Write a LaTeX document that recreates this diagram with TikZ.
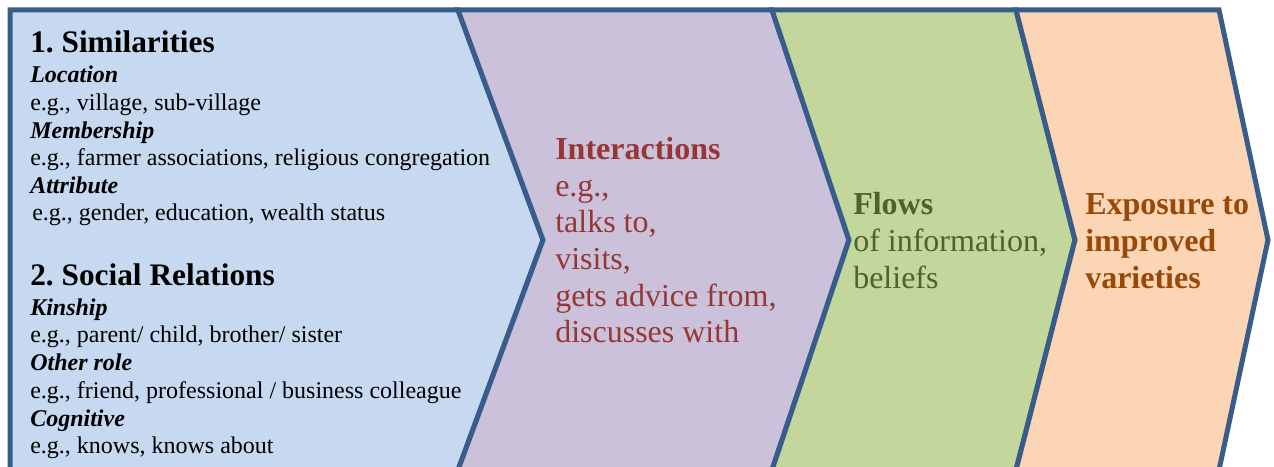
\documentclass[tikz,border=0pt]{standalone}
\usepackage{fontspec}
\setmainfont{Liberation Serif}
\usetikzlibrary{positioning}
\definecolor{edgeblue}{HTML}{385D8A}
\definecolor{simblue}{HTML}{C6D9F0}
\definecolor{actpurple}{HTML}{CCC1DA}
\definecolor{flowgreen}{HTML}{C3D69B}
\definecolor{expoorange}{HTML}{FCD5B5}
\definecolor{actred}{HTML}{953735}
\definecolor{flowolive}{HTML}{4F6228}
\definecolor{expobrown}{HTML}{984807}
\tikzset{
  stage/.style={draw=edgeblue,line width=3.75pt},
  txt/.style={anchor=base west,inner sep=0pt},
  head/.style={txt,font=\fontsize{23.5}{28}\selectfont\bfseries},
  kind/.style={txt,font=\fontsize{18}{21}\selectfont\bfseries\itshape},
  eg/.style={txt,font=\fontsize{18}{21}\selectfont},
  big/.style={txt,font=\fontsize{24}{29}\selectfont},
  bigbf/.style={txt,font=\fontsize{24}{29}\selectfont\bfseries},
}

\begin{document}
\frenchspacing
\begin{tikzpicture}[x=0.75pt,y=-0.75pt]
\useasboundingbox (0,0) rectangle (1274,467);
\clip (0,0) rectangle (1274,467);
% Corners of the four chevrons
\coordinate (t0) at (10,10);
\coordinate (t1) at (458,10);
\coordinate (t2) at (772,10);
\coordinate (t3) at (1016,10);
\coordinate (t4) at (1219,10);
\coordinate (p1) at (543,240);
\coordinate (p2) at (849,240);
\coordinate (p3) at (1075,240);
\coordinate (p4) at (1268,240);
\coordinate (b0) at (10,470);
\coordinate (b1) at (458,470);
\coordinate (b2) at (772,470);
\coordinate (b3) at (1016,470);
\coordinate (b4) at (1219,470);
% Chevrons
\draw[stage,fill=simblue] (t0) -- (t1) -- (p1) -- (b1) -- (b0) -- cycle;
\draw[stage,fill=actpurple] (t1) -- (t2) -- (p2) -- (b2) -- (b1) -- (p1) -- cycle;
\draw[stage,fill=flowgreen] (t2) -- (t3) -- (p3) -- (b3) -- (b2) -- (p2) -- cycle;
\draw[stage,fill=expoorange] (t3) -- (t4) -- (p4) -- (b4) -- (b3) -- (p3) -- cycle;
% Left block
\node[head] (sim) at (30,53) {1. Similarities};
\node[head] (soc) at (30,285) {2. Social Relations};
\foreach \y/\t [count=\i] in {83/Location,138/Membership,193/Attribute,315/Kinship,370/Other role,426/Cognitive}
  \node[kind] (kind\i) at (30,\y) {\t};
\foreach \x/\y/\t [count=\i] in {30/110/{e.g., village, sub-village},
    30/165/{e.g., farmer associations, religious congregation},
    32/220/{e.g., gender, education, wealth status},
    30/342/{e.g., parent/ child, brother/ sister},
    30/398/{e.g., friend, professional / business colleague},
    30/453/{e.g., knows, knows about}}
  \node[eg] (eg\i) at (\x,\y) {\t};
% Interactions
\node[bigbf,text=actred] (act) at (555,159) {Interactions};
\foreach \y/\t [count=\i] in {196/{e.g.,},232/{talks to,},269/{visits,},306/{gets advice from,},342/{discusses with}}
  \node[big,text=actred] (act\i) at (555,\y) {\t};
% Flows
\node[bigbf,text=flowolive] (flow) at (853,214) {Flows};
\node[big,text=flowolive] (flow1) at (853,251) {of information,};
\node[big,text=flowolive] (flow2) at (853,288) {beliefs};
% Exposure
\foreach \y/\t [count=\i] in {214/{Exposure to},251/{improved},288/{varieties}}
  \node[bigbf,text=expobrown] (expo\i) at (1085,\y) {\t};
\end{tikzpicture}
\end{document}
